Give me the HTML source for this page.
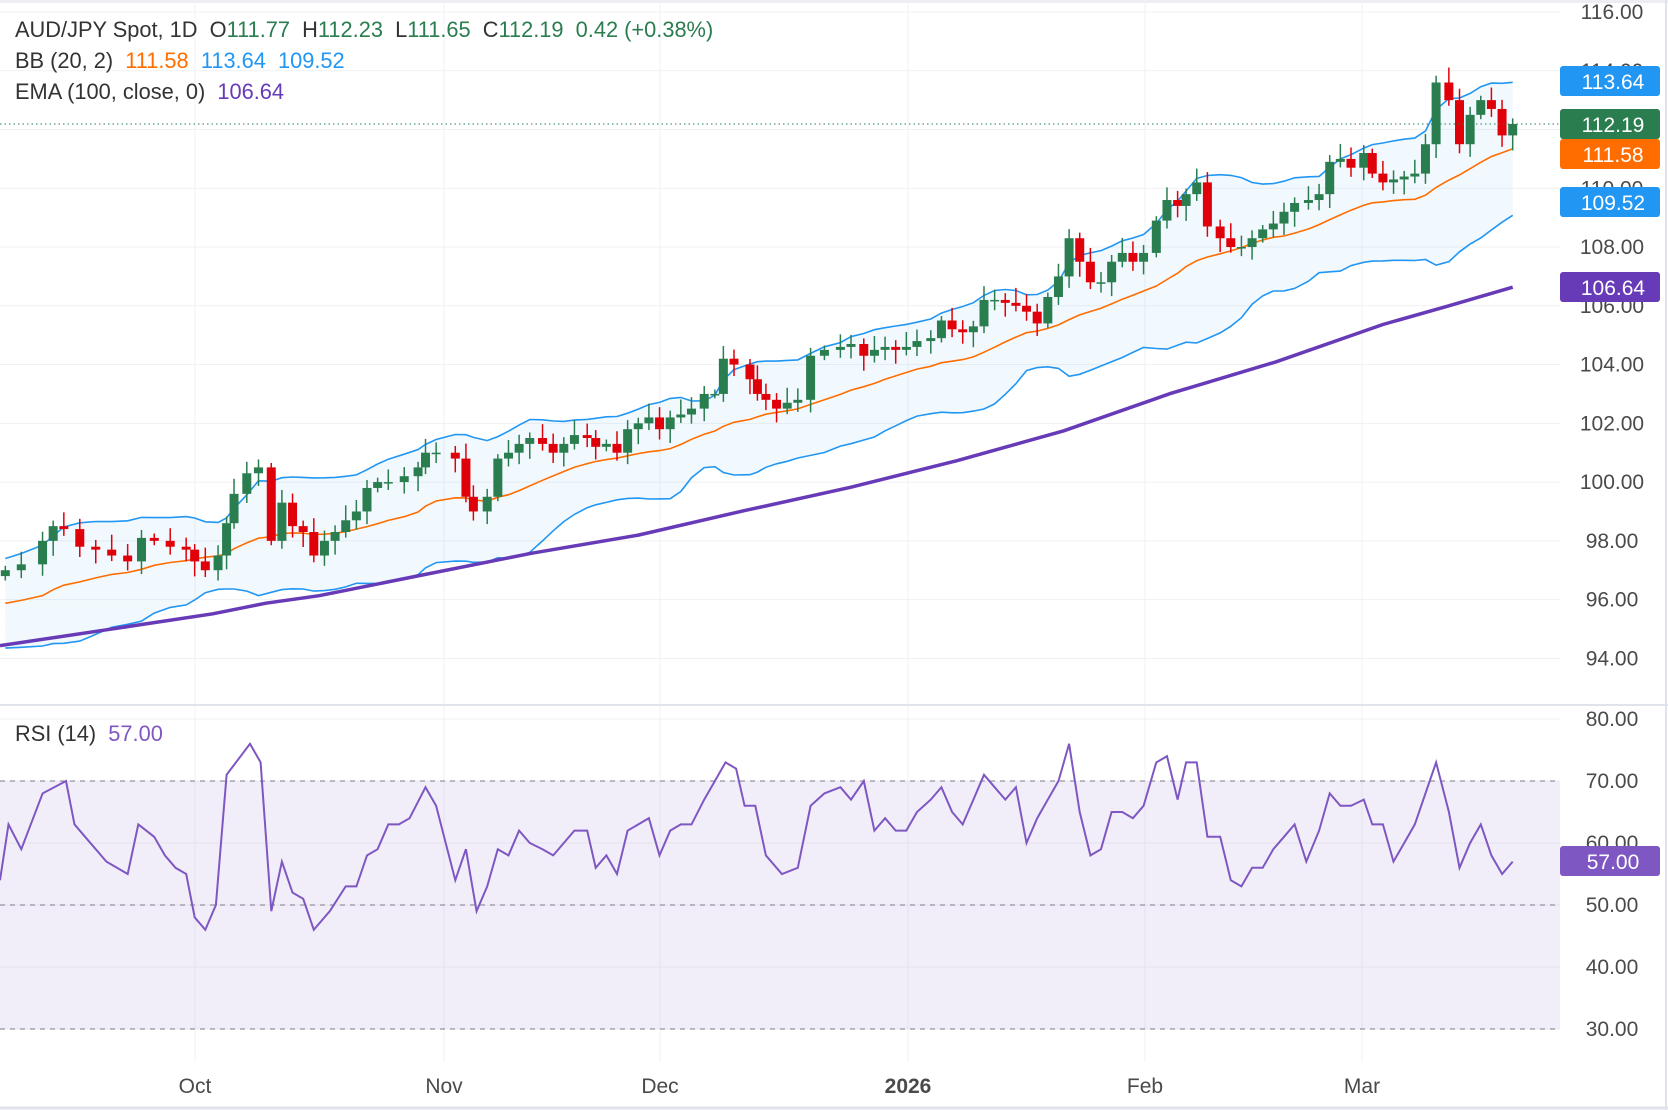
<!DOCTYPE html>
<html><head><meta charset="utf-8"><style>
html,body{margin:0;padding:0;background:#fff;}
svg{display:block;font-family:"Liberation Sans",sans-serif;}
text{white-space:pre}
</style></head><body>
<svg id="s" width="1668" height="1110" xmlns="http://www.w3.org/2000/svg"></svg>
<script>
const S=1668/1568;
const P=p=>12+(116-p)*29.38;
const R=v=>719+(80-v)*6.2;
const closesD=[[5,97.0],[20,97.2],[40,98.0],[50,98.5],[60,98.4],[75,97.8],[90,97.7],[105,97.5],[120,97.3],[133,98.1],[145,98.0],[160,97.8],[175,97.7],[183,97.3],[193,97.0],[205,97.5],[213,98.6],[220,99.6],[232,100.3],[243,100.5],[255,98.0],[265,99.3],[275,98.5],[285,98.3],[295,97.5],[305,98.0],[315,98.3],[325,98.7],[335,99.0],[345,99.8],[355,100.0],[365,100.0],[380,100.2],[393,100.5],[400,101.0],[410,101.0],[428,100.8],[438,99.5],[445,99.0],[458,99.5],[468,100.8],[478,101.0],[488,101.3],[498,101.5],[510,101.3],[520,101.0],[530,101.3],[540,101.6],[552,101.5],[560,101.2],[570,101.3],[580,101.0],[590,101.8],[600,102.0],[610,102.2],[620,101.8],[630,102.2],[640,102.3],[650,102.5],[662,103.0],[672,103.0],[680,104.2],[690,104.0],[705,103.5],[712,103.0],[720,102.8],[730,102.5],[740,102.7],[750,102.8],[762,104.3],[775,104.5],[790,104.6],[800,104.7],[812,104.3],[822,104.5],[832,104.6],[842,104.5],[852,104.6],[862,104.8],[875,104.9],[885,105.5],[895,105.2],[905,105.1],[915,105.3],[925,106.2],[935,106.2],[945,106.1],[955,106.0],[965,105.8],[975,105.4],[985,106.3],[995,107.0],[1005,108.3],[1015,107.5],[1025,106.8],[1035,106.8],[1045,107.5],[1055,107.8],[1065,107.5],[1075,107.8],[1087,108.9],[1097,109.6],[1107,109.4],[1115,109.8],[1125,110.2],[1135,108.7],[1147,108.3],[1157,108.0],[1167,108.0],[1177,108.3],[1187,108.6],[1197,108.8],[1207,109.2],[1217,109.5],[1230,109.6],[1240,109.8],[1250,110.9],[1260,111.0],[1270,110.7],[1282,111.2],[1290,110.5],[1300,110.2],[1310,110.3],[1320,110.4],[1330,110.5],[1340,111.5],[1350,113.6],[1362,113.0],[1372,111.5],[1382,112.5],[1392,113.0],[1402,112.7],[1412,111.8],[1422,112.19]];
const rsiD=[[0,54],[8,63],[20,59],[40,68],[62,70],[70,63],[80,61],[100,57],[120,55],[130,63],[145,61],[155,58],[165,56],[175,55],[183,48],[193,46],[203,50],[213,71],[235,76],[245,73],[255,49],[265,57],[275,52],[285,51],[295,46],[310,49],[325,53],[335,53],[345,58],[355,59],[365,63],[375,63],[385,64],[400,69],[410,66],[428,54],[438,59],[448,49],[458,53],[468,59],[478,58],[488,62],[498,60],[510,59],[520,58],[530,60],[540,62],[552,62],[560,56],[570,58],[580,55],[590,62],[600,63],[610,64],[620,58],[630,62],[640,63],[650,63],[662,67],[672,70],[682,73],[692,72],[700,66],[710,66],[720,58],[735,55],[750,56],[762,66],[775,68],[790,69],[800,67],[812,70],[822,62],[832,64],[842,62],[852,62],[862,65],[875,67],[885,69],[895,65],[905,63],[915,67],[925,71],[935,69],[945,67],[955,69],[965,60],[975,64],[985,67],[995,70],[1005,76],[1015,65],[1025,58],[1035,59],[1045,65],[1055,65],[1065,64],[1075,66],[1087,73],[1097,74],[1107,67],[1115,73],[1125,73],[1135,61],[1147,61],[1157,54],[1167,53],[1177,56],[1187,56],[1197,59],[1207,61],[1217,63],[1228,57],[1240,62],[1250,68],[1260,66],[1270,66],[1282,67],[1290,63],[1300,63],[1310,57],[1320,60],[1330,63],[1350,73],[1362,65],[1372,56],[1382,60],[1392,63],[1402,58],[1412,55],[1422,57]];
const emaD=[[0,607],[100,592],[200,577],[250,567],[300,560],[400,540],[500,520],[600,503],[700,480],[800,458],[900,433],[1000,405],[1100,370],[1200,340],[1300,305],[1360,288],[1422,270]];
let o='';
o+='<rect x="0" y="0" width="1668" height="3" fill="#eceef2"/>';
for(let p=94;p<=116;p+=2){o+=`<line x1="0" x2="1560" y1="${P(p)}" y2="${P(p)}" stroke="#f0f1f4"/>`;}
for(let v=30;v<=80;v+=10){o+=`<line x1="0" x2="1560" y1="${R(v)}" y2="${R(v)}" stroke="#f0f1f4"/>`;}
const months=[[195,'Oct'],[444,'Nov'],[660,'Dec'],[908,'2026'],[1145,'Feb'],[1362,'Mar']];
months.forEach(m=>{o+=`<line x1="${m[0]}" x2="${m[0]}" y1="0" y2="1062" stroke="#f0f1f4"/>`;});
o+='<line x1="0" x2="1668" y1="705" y2="705" stroke="#e0e3eb" stroke-width="2"/>';
o+='<line x1="1666" x2="1666" y1="0" y2="1110" stroke="#e0e3eb" stroke-width="2"/>';
o+='<line x1="0" x2="1668" y1="1108" y2="1108" stroke="#e0e3eb" stroke-width="3"/>';
o+=`<rect x="0" y="${R(70)}" width="1560" height="${R(30)-R(70)}" fill="#7e57c2" fill-opacity="0.1"/>`;
[70,50,30].forEach(v=>{o+=`<line x1="0" x2="1560" y1="${R(v)}" y2="${R(v)}" stroke="#787b86" stroke-dasharray="5,5"/>`;});
const xs=closesD.map(d=>d[0]*S), cl=closesD.map(d=>d[1]);
const pre=[];for(let i=0;i<20;i++)pre.push(94.6+i*0.12+Math.sin(i*1.7)*0.5);
const all=pre.concat(cl);
const up=[],lo=[],mid=[];
for(let i=0;i<cl.length;i++){const w=all.slice(i+1,i+21);const m=w.reduce((a,b)=>a+b)/20;const sd=Math.sqrt(w.reduce((a,b)=>a+(b-m)*(b-m),0)/20);mid.push(m);up.push(m+2*sd);lo.push(m-2*sd);}
const pl=(arr)=>arr.map((v,i)=>`${xs[i].toFixed(1)},${P(v).toFixed(1)}`).join(' ');
let fill=xs.map((x,i)=>`${x.toFixed(1)},${P(up[i]).toFixed(1)}`).join(' ')+' '+xs.map((x,i)=>`${x.toFixed(1)},${P(lo[i]).toFixed(1)}`).reverse().join(' ');
o+=`<polygon points="${fill}" fill="#2196f3" fill-opacity="0.06"/>`;
o+=`<polyline points="${pl(up)}" fill="none" stroke="#2196f3" stroke-width="1.6"/>`;
o+=`<polyline points="${pl(lo)}" fill="none" stroke="#2196f3" stroke-width="1.6"/>`;
o+=`<polyline points="${pl(mid)}" fill="none" stroke="#ff6d00" stroke-width="1.6"/>`;
o+=`<polyline points="${emaD.map(d=>`${(d[0]*S).toFixed(1)},${(d[1]*S).toFixed(1)}`).join(' ')}" fill="none" stroke="#673ab7" stroke-width="3.5"/>`;
let prev=96.8;
for(let i=0;i<cl.length;i++){const op=prev,c=cl[i];const g=c>=op;const col=g?'#2a7d4f':'#e0000a';
const h=Math.max(op,c)+0.15+((i*37)%10)/25,l=Math.min(op,c)-0.15-((i*53)%10)/25;
const x=xs[i];o+=`<line x1="${x}" x2="${x}" y1="${P(h)}" y2="${P(l)}" stroke="${col}" stroke-width="1.5"/>`;
let y1=P(Math.max(op,c)),y2=P(Math.min(op,c));if(y2-y1<1.5)y2=y1+1.5;
o+=`<rect x="${x-4.5}" y="${y1}" width="9" height="${y2-y1}" fill="${col}"/>`;prev=c;}
o+=`<line x1="0" x2="1560" y1="${P(112.19)}" y2="${P(112.19)}" stroke="#2a7d4f" stroke-dasharray="1.5,3"/>`;
o+=`<polyline points="${rsiD.map(d=>`${(d[0]*S).toFixed(1)},${R(d[1]).toFixed(1)}`).join(' ')}" fill="none" stroke="#7e57c2" stroke-width="2"/>`;
for(let p=94;p<=116;p+=2){o+=`<text x="1612" y="${P(p)+7}" font-size="21" fill="#4a4a4a" text-anchor="middle">${p.toFixed(2)}</text>`;}
for(let v=30;v<=80;v+=10){o+=`<text x="1612" y="${R(v)+7}" font-size="21" fill="#4a4a4a" text-anchor="middle">${v.toFixed(2)}</text>`;}
const box=(cy,col,t)=>{o+=`<rect x="1560" y="${cy-15}" width="100" height="30" rx="3" fill="${col}"/><text x="1613" y="${cy+8}" font-size="21" fill="#fff" text-anchor="middle">${t}</text>`;};
box(81,'#2196f3','113.64');box(124,'#2a7d4f','112.19');box(154,'#ff6d00','111.58');box(202,'#2196f3','109.52');box(287,'#673ab7','106.64');box(861,'#7e57c2','57.00');
months.forEach(m=>{o+=`<text x="${m[0]}" y="1093" font-size="21" fill="#4a4a4a" text-anchor="middle" ${m[1]=='2026'?'font-weight="bold"':''}>${m[1]}</text>`;});
const fs=21.8;
o+=`<text x="15" y="37" font-size="${fs}" fill="#333">AUD/JPY Spot, 1D  O<tspan fill="#2a7d4f">111.77</tspan>  H<tspan fill="#2a7d4f">112.23</tspan>  L<tspan fill="#2a7d4f">111.65</tspan>  C<tspan fill="#2a7d4f">112.19</tspan>  <tspan fill="#2a7d4f">0.42 (+0.38%)</tspan></text>`;
o+=`<text x="15" y="68" font-size="${fs}" fill="#333">BB (20, 2)  <tspan fill="#ff6d00">111.58</tspan>  <tspan fill="#2196f3">113.64</tspan>  <tspan fill="#2196f3">109.52</tspan></text>`;
o+=`<text x="15" y="99" font-size="${fs}" fill="#333">EMA (100, close, 0)  <tspan fill="#673ab7">106.64</tspan></text>`;
o+=`<text x="15" y="741" font-size="${fs}" fill="#333">RSI (14)  <tspan fill="#7e57c2">57.00</tspan></text>`;
document.getElementById('s').innerHTML=o;
</script>
</body></html>
